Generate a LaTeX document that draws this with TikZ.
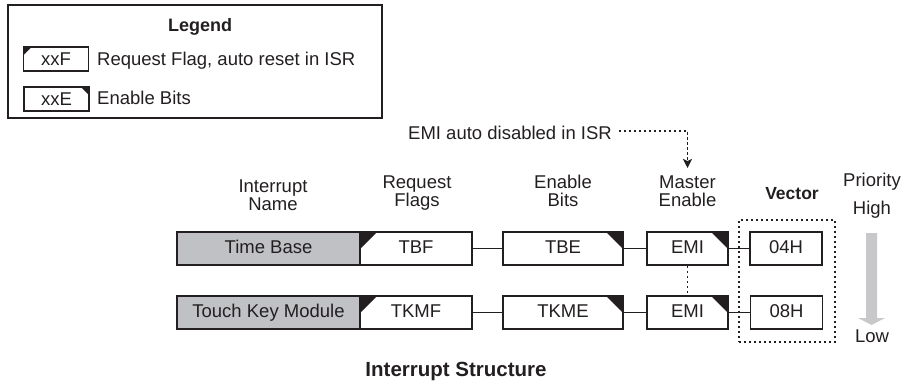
\documentclass[tikz,border=0pt]{standalone}
\usepackage{fontspec}
\setmainfont{Liberation Sans}
\usetikzlibrary{arrows.meta}

\definecolor{ink}{RGB}{35,31,32}
\definecolor{namegray}{RGB}{192,193,196}
\definecolor{arrowgray}{RGB}{200,200,202}

\newcommand{\basefont}{\fontsize{18.5pt}{18pt}\selectfont}

\tikzset{
  txt/.style={inner sep=0pt, anchor=base, text=ink, font=\basefont},
  txtbold/.style={inner sep=0pt, anchor=base, text=ink, font=\fontsize{#1}{#1}\selectfont\bfseries},
  boxbase/.style={draw=ink, line width=1.7pt, inner sep=0pt, minimum height=33pt,
    text height=9.2pt, text depth=0pt, text=ink, font=\basefont},
  namebox/.style={boxbase, fill=namegray, minimum width=183pt},
  flagcorner/.style={path picture={\fill[ink] (path picture bounding box.north west)
      -- ++(#1,0pt) -- ++(-#1,-#1) -- cycle;}},
  encorner/.style={path picture={\fill[ink] (path picture bounding box.north east)
      -- ++(-#1,0pt) -- ++(#1,-#1) -- cycle;}},
  flagbox/.style={boxbase, fill=white, minimum width=112pt, flagcorner=17pt},
  enbox/.style={boxbase, fill=white, minimum width=120pt, encorner=17pt},
  emibox/.style={boxbase, fill=white, minimum width=81pt, encorner=17pt},
  vecbox/.style={boxbase, fill=white, minimum width=72pt},
  legbox/.style={draw=ink, line width=1.7pt, inner sep=0pt, minimum height=24pt,
    minimum width=65pt, text height=13pt, text depth=0pt, text=ink, font=\basefont},
  conn/.style={draw=ink, line width=1.5pt},
  dotline/.style={draw=ink, line width=1.8pt, dash pattern=on 2.2pt off 2.8pt},
}

\begin{document}
\begin{tikzpicture}[x=1pt, y=-1pt]
  \useasboundingbox (0,0) rectangle (904,383);

  % ---------- legend ----------
  \node[draw=ink, line width=1.7pt, minimum width=374pt, minimum height=113pt,
        inner sep=0pt] (legend) at (195,61.5) {};
  \node[txtbold=18pt] (legtitle) at (200,31) {Legend};
  \node[legbox, flagcorner=8pt] (legF) at (56,59) {xxF};
  \node[txt, anchor=base west] (legFtxt) at (97,65) {Request Flag, auto reset in ISR};
  \node[legbox, encorner=8pt] (legE) at (56.5,99) {xxE};
  \node[txt, anchor=base west] (legEtxt) at (97,104) {Enable Bits};

  % ---------- note on the master enable ----------
  \node[txt, anchor=base west] (emitxt) at (408,139) {EMI auto disabled in ISR};
  \coordinate (emiend) at (687.5,168);

  % ---------- column headings ----------
  \node[txt] (hName1) at (273,192.7) {Interrupt};
  \node[txt] (hName2) at (273,210.7) {Name};
  \node[txt] (hReq1) at (417,188) {Request};
  \node[txt] (hReq2) at (417,206) {Flags};
  \node[txt] (hEn1) at (563,188.5) {Enable};
  \node[txt] (hEn2) at (563,206.5) {Bits};
  \node[txt] (hMst1) at (687.5,188.5) {Master};
  \node[txt] (hMst2) at (687.5,206.5) {Enable};
  \node[txtbold=17.5pt] (hVec) at (792,199) {Vector};
  \node[txt] (hPrio) at (872,186) {Priority};
  \node[txt] (hHigh) at (872,214) {High};
  \node[txt] (hLow) at (872,342) {Low};

  % ---------- vector group frame ----------
  \node[dotline, minimum width=96pt, minimum height=122pt, inner sep=0pt]
        (vecgrp) at (787,281) {};

  % ---------- row 1: time base ----------
  \node[namebox] (nameA) at (268.5,248.5) {Time Base};
  \node[flagbox] (flagA) at (416,248.5) {TBF};
  \node[enbox]   (enA)   at (563,248.5) {TBE};
  \node[emibox]  (emiA)  at (687.5,248.5) {EMI};
  \node[vecbox]  (vecA)  at (786,248.5) {04H};

  % ---------- row 2: touch key module ----------
  \node[namebox] (nameB) at (268.5,312.5) {Touch Key Module};
  \node[flagbox] (flagB) at (416,312.5) {TKMF};
  \node[enbox]   (enB)   at (563,312.5) {TKME};
  \node[emibox]  (emiB)  at (687.5,312.5) {EMI};
  \node[vecbox]  (vecB)  at (786.5,312.5) {08H};

  % ---------- connectors ----------
  \draw[conn] (flagA.east) -- (enA.west);
  \draw[conn] (enA.east) -- (emiA.west);
  \draw[conn] (emiA.east) -- (vecA.west);
  \draw[conn] (flagB.east) -- (enB.west);
  \draw[conn] (enB.east) -- (emiB.west);
  \draw[conn] (emiB.east) -- (vecB.west);
  \draw[dotline] (emiA.south) -- (emiB.north);
  \draw[dotline, -{Stealth[length=9pt, width=9pt, inset=2pt]}]
        ([xshift=7pt, yshift=1.5pt]emitxt.east) -| (emiend);

  % ---------- priority arrow ----------
  \fill[arrowgray] (866,233) -- (877,233) -- (877,318) -- (885,318)
        -- (871.5,325) -- (858,318) -- (866,318) -- cycle;

  % ---------- title ----------
  \node[txtbold=20.5pt] (title) at (456,376) {Interrupt Structure};
\end{tikzpicture}
\end{document}
